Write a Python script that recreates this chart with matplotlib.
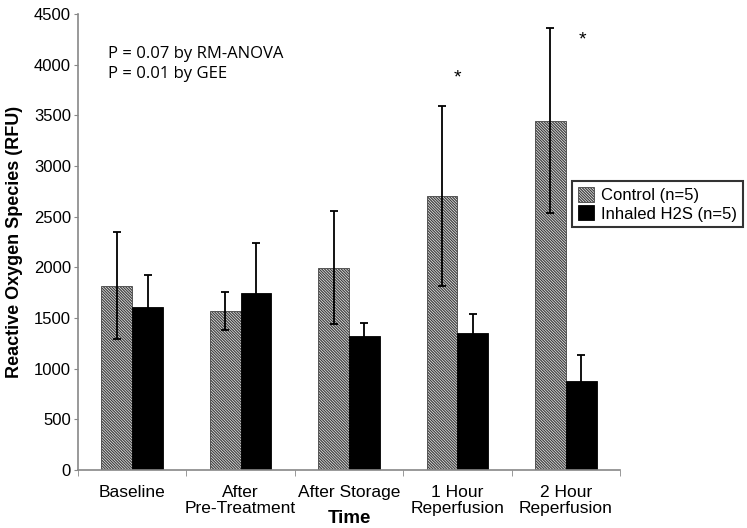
import numpy as np
import matplotlib
matplotlib.use("Agg")
import matplotlib.pyplot as plt

# Data
categories = ["Baseline", "After\nPre-Treatment", "After Storage", "1 Hour\nReperfusion", "2 Hour\nReperfusion"]
control_mean = [1820, 1570, 1997, 2704, 3447]
control_err = [530, 190, 560, 890, 915]
h2s_mean = [1610, 1747, 1322, 1355, 878]
h2s_err = [315, 490, 130, 188, 255]
star_x = [3.0, 4.15]
star_y = [3870, 4240]

plt.rcParams["font.family"] = ["Liberation Sans", "DejaVu Sans"]
plt.rcParams["hatch.color"] = "#222222"
plt.rcParams["hatch.linewidth"] = 0.95

fig = plt.figure(figsize=(7.47, 5.28), dpi=100)
ax = fig.add_axes([0.1044, 0.1098, 0.7256, 0.8637])

x = np.arange(len(categories))
w = 0.285

ax.bar(x - w / 2, control_mean, w, color="white", edgecolor="#444444",
       hatch="\\" * 12, linewidth=0.6, label="Control (n=5)")
ax.bar(x + w / 2, h2s_mean, w, color="black", edgecolor="black",
       linewidth=0.6, label="Inhaled H2S (n=5)")
ax.errorbar(x - w / 2, control_mean, yerr=control_err, fmt="none",
            ecolor="black", elinewidth=1.3, capsize=3, capthick=1.3)
ax.errorbar(x + w / 2, h2s_mean, yerr=h2s_err, fmt="none",
            ecolor="black", elinewidth=1.3, capsize=3, capthick=1.3)

for sx, sy in zip(star_x, star_y):
    ax.text(sx, sy, "*", ha="center", va="center", fontsize=14)

ax.text(0.055, 0.93, "P = 0.07 by RM-ANOVA\nP = 0.01 by GEE", transform=ax.transAxes,
        fontsize=12, family=["Open Sans", "DejaVu Sans"], va="top", linespacing=1.35)

ax.set_xlim(-0.5, len(categories) - 0.5)
ax.set_ylim(0, 4500)
ax.set_yticks(np.arange(0, 4501, 500))
ax.tick_params(axis="y", labelsize=12, length=3, color="#888888", pad=2)
ax.set_xticks(x)
ax.set_xticklabels(categories, fontsize=12.5, linespacing=1.05)
ax.tick_params(axis="x", length=0, pad=11)
# category boundary ticks
ax.set_xticks(np.arange(-0.5, len(categories)), minor=True)
ax.tick_params(axis="x", which="minor", length=4, color="#888888")

for s in ["top", "right"]:
    ax.spines[s].set_visible(False)
for s in ["left", "bottom"]:
    ax.spines[s].set_color("#888888")
    ax.spines[s].set_linewidth(1.2)

ax.set_ylabel("Reactive Oxygen Species (RFU)", fontsize=13, fontweight="bold", labelpad=8)
ax.set_xlabel("Time", fontsize=13.5, fontweight="bold")
ax.xaxis.set_label_coords(0.5, -0.087)

leg = ax.legend(loc="upper left", bbox_to_anchor=(0.911, 0.634), borderaxespad=0,
                fontsize=12, frameon=True, fancybox=False, edgecolor="black",
                handlelength=1.0, handleheight=1.0, handletextpad=0.4,
                borderpad=0.35, labelspacing=0.15)
leg.get_frame().set_linewidth(1.5)

fig.savefig("out.png", dpi=100)
